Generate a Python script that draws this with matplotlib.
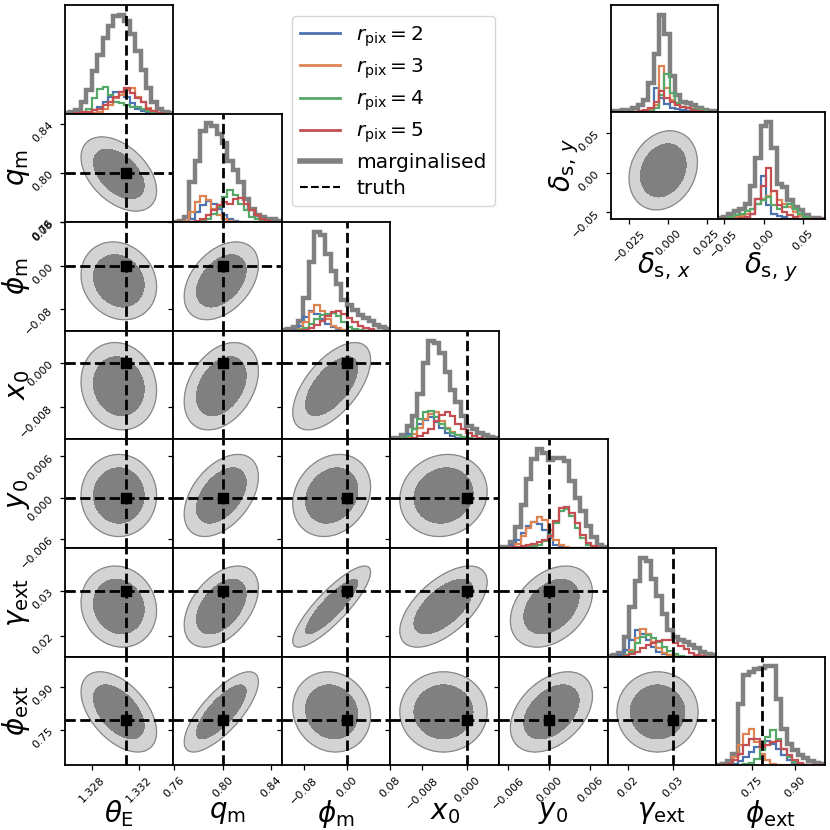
import numpy as np
import matplotlib
matplotlib.use("Agg")
import matplotlib.pyplot as plt
from matplotlib.lines import Line2D
from matplotlib.ticker import FixedLocator, FuncFormatter

# parameter names, truths, plot ranges and ticks
names = [r"$\theta_{\rm E}$", r"$q_{\rm m}$", r"$\phi_{\rm m}$", r"$x_0$",
         r"$y_0$", r"$\gamma_{\rm ext}$", r"$\phi_{\rm ext}$"]
truths = [1.3309, 0.80, 0.0, 0.0, 0.0, 0.03, 0.785]
ranges = [(1.3257, 1.3349), (0.7595, 0.8485), (-0.1205, 0.0805), (-0.0137, 0.0057),
          (-0.00738, 0.0085), (0.0154, 0.0395), (0.626, 1.005)]
ticks = [[1.328, 1.332], [0.76, 0.80, 0.84], [-0.08, 0.0, 0.08], [-0.008, 0.0],
         [-0.006, 0.0, 0.006], [0.02, 0.03], [0.75, 0.90]]
tickfmt = ["%.3f", "%.2f", "%.2f", "%.3f", "%.3f", "%.2f", "%.2f"]

# source position offsets (separate little corner plot)
d_names = [r"$\delta_{{\rm s},\,x}$", r"$\delta_{{\rm s},\,y}$"]
d_ranges = [(-0.0366, 0.0321), (-0.058, 0.077)]
d_ticks = [[-0.025, 0.0, 0.025], [-0.05, 0.0, 0.05]]
d_fmt = ["%.3f", "%.2f"]

series = ["rpix2", "rpix3", "rpix4", "rpix5", "marg"]
labels = [r"$r_{\rm pix} = 2$", r"$r_{\rm pix} = 3$", r"$r_{\rm pix} = 4$",
          r"$r_{\rm pix} = 5$", "marginalised"]
colors = ["#4c72b0", "#dd8452", "#55a868", "#c44e52", "#808080"]

# 20-bin histograms (arbitrary units) per parameter
h_thetaE = {
    "marg":  [2, 5, 10, 35, 70, 125, 175, 223, 260, 290, 293, 275, 235, 185, 130, 75, 35, 15, 5, 2],
    "rpix2": [0, 0, 0, 2, 5, 12, 20, 35, 50, 63, 65, 50, 30, 15, 7, 3, 1, 0, 0, 0],
    "rpix3": [0, 0, 0, 0, 0, 2, 5, 13, 27, 45, 55, 70, 75, 50, 35, 17, 7, 3, 0, 0],
    "rpix4": [0, 0, 0, 5, 15, 45, 73, 80, 55, 35, 30, 25, 20, 20, 13, 8, 4, 2, 0, 0],
    "rpix5": [0, 0, 2, 4, 6, 10, 15, 25, 35, 50, 65, 77, 60, 45, 35, 15, 7, 3, 0, 0],
}
h_qm = {
    "marg":  [2, 5, 15, 120, 180, 270, 292, 285, 262, 235, 180, 155, 120, 70, 40, 22, 15, 10, 8, 5],
    "rpix2": [0, 0, 0, 10, 30, 50, 62, 55, 40, 20, 10, 4, 0, 0, 0, 0, 0, 0, 0, 0],
    "rpix3": [0, 0, 5, 30, 60, 77, 65, 40, 20, 8, 3, 0, 0, 0, 0, 0, 0, 0, 0, 0],
    "rpix4": [0, 0, 0, 0, 0, 3, 10, 25, 45, 75, 94, 80, 55, 35, 15, 8, 3, 0, 0, 0],
    "rpix5": [0, 0, 0, 0, 5, 10, 20, 35, 50, 60, 55, 70, 72, 55, 35, 20, 10, 4, 0, 0],
}
h_phim = {
    "marg":  [2, 4, 10, 28, 98, 203, 293, 285, 228, 178, 138, 90, 78, 63, 48, 38, 28, 18, 10, 4],
    "rpix2": [0, 0, 3, 15, 40, 58, 50, 35, 20, 10, 5, 2, 0, 0, 0, 0, 0, 0, 0, 0],
    "rpix3": [0, 0, 0, 5, 25, 55, 78, 60, 35, 15, 8, 3, 0, 0, 0, 0, 0, 0, 0, 0],
    "rpix4": [0, 0, 0, 3, 8, 20, 35, 48, 50, 52, 45, 25, 12, 5, 2, 0, 0, 0, 0, 0],
    "rpix5": [0, 0, 0, 0, 3, 8, 18, 30, 45, 56, 58, 50, 38, 25, 15, 8, 4, 0, 0, 0],
}
h_x0 = {
    "marg":  [3, 5, 12, 40, 70, 135, 225, 292, 285, 255, 200, 145, 110, 70, 40, 30, 20, 12, 8, 4],
    "rpix2": [0, 0, 5, 15, 30, 45, 58, 65, 50, 35, 20, 10, 5, 2, 0, 0, 0, 0, 0, 0],
    "rpix3": [0, 0, 0, 5, 15, 35, 60, 75, 80, 55, 35, 22, 12, 6, 2, 0, 0, 0, 0, 0],
    "rpix4": [0, 0, 3, 10, 30, 60, 80, 85, 65, 45, 30, 20, 12, 8, 4, 0, 0, 0, 0, 0],
    "rpix5": [0, 0, 0, 0, 5, 10, 18, 30, 55, 72, 82, 68, 45, 30, 18, 10, 5, 2, 0, 0],
}
h_y0 = {
    "marg":  [2, 3, 17, 62, 127, 207, 267, 295, 285, 262, 270, 270, 260, 200, 150, 110, 65, 32, 10, 3],
    "rpix2": [0, 0, 8, 25, 45, 65, 77, 72, 55, 30, 10, 4, 0, 0, 0, 0, 0, 0, 0, 0],
    "rpix3": [0, 0, 3, 12, 35, 60, 78, 92, 85, 55, 25, 8, 3, 0, 0, 0, 0, 0, 0, 0],
    "rpix4": [0, 0, 0, 0, 0, 3, 5, 10, 20, 40, 75, 110, 117, 95, 60, 30, 10, 3, 0, 0],
    "rpix5": [0, 0, 2, 3, 5, 8, 12, 18, 25, 35, 80, 120, 122, 105, 75, 40, 15, 5, 0, 0],
}
h_gext = {
    "marg":  [3, 5, 12, 60, 150, 230, 300, 290, 235, 185, 130, 80, 60, 50, 45, 35, 25, 15, 8, 4],
    "rpix2": [0, 0, 5, 20, 50, 80, 70, 50, 30, 15, 7, 3, 0, 0, 0, 0, 0, 0, 0, 0],
    "rpix3": [0, 0, 0, 5, 20, 55, 85, 70, 45, 25, 12, 5, 2, 0, 0, 0, 0, 0, 0, 0],
    "rpix4": [0, 0, 0, 4, 15, 40, 60, 65, 55, 45, 30, 18, 8, 3, 0, 0, 0, 0, 0, 0],
    "rpix5": [0, 0, 0, 3, 8, 15, 25, 35, 42, 48, 50, 50, 42, 32, 22, 12, 5, 2, 0, 0],
}
h_phiext = {
    "marg":  [2, 4, 12, 35, 185, 270, 280, 290, 292, 297, 297, 200, 110, 65, 45, 32, 22, 14, 8, 4],
    "rpix2": [0, 0, 0, 5, 12, 25, 40, 55, 60, 72, 65, 50, 30, 15, 7, 3, 0, 0, 0, 0],
    "rpix3": [0, 0, 5, 25, 60, 95, 110, 70, 35, 15, 5, 2, 0, 0, 0, 0, 0, 0, 0, 0],
    "rpix4": [0, 0, 0, 0, 0, 3, 8, 20, 45, 85, 105, 80, 50, 25, 10, 4, 0, 0, 0, 0],
    "rpix5": [0, 0, 3, 15, 35, 60, 80, 78, 55, 60, 70, 72, 50, 30, 15, 6, 2, 0, 0, 0],
}
h_dx = {
    "marg":  [2, 3, 4, 5, 10, 20, 35, 85, 170, 288, 230, 105, 50, 30, 25, 20, 12, 6, 3, 2],
    "rpix2": [0, 0, 0, 0, 0, 0, 3, 8, 70, 40, 22, 12, 8, 5, 3, 2, 0, 0, 0, 0],
    "rpix3": [0, 0, 0, 0, 0, 0, 3, 8, 20, 135, 72, 35, 20, 15, 10, 8, 5, 3, 0, 0],
    "rpix4": [0, 0, 0, 0, 0, 0, 0, 3, 10, 50, 112, 55, 25, 15, 12, 8, 5, 2, 0, 0],
    "rpix5": [0, 0, 0, 0, 0, 2, 4, 10, 30, 62, 40, 30, 20, 15, 10, 6, 3, 0, 0, 0],
}
h_dy = {
    "marg":  [3, 5, 15, 22, 30, 45, 100, 185, 280, 295, 215, 105, 95, 55, 35, 25, 10, 3, 1, 0],
    "rpix2": [0, 0, 0, 0, 2, 5, 15, 60, 130, 40, 15, 8, 4, 0, 0, 0, 0, 0, 0, 0],
    "rpix3": [0, 0, 0, 5, 8, 15, 30, 45, 60, 70, 85, 55, 45, 35, 20, 8, 3, 0, 0, 0],
    "rpix4": [0, 0, 5, 10, 15, 22, 30, 45, 55, 65, 40, 30, 35, 45, 30, 15, 5, 0, 0, 0],
    "rpix5": [0, 0, 0, 0, 3, 5, 15, 60, 100, 155, 85, 40, 20, 10, 5, 0, 0, 0, 0, 0],
}
hists = [h_thetaE, h_qm, h_phim, h_x0, h_y0, h_gext, h_phiext]

# 2D posterior summary: centre, width, correlation
c_mean = [1.3303, 0.799, -0.028, -0.0042, 0.0003, 0.0265, 0.812]
c_sigma = [0.0016, 0.0152, 0.036, 0.0039, 0.0030, 0.0045, 0.070]
c_rho = [
    [],
    [-0.45],
    [-0.15, 0.40],
    [-0.10, 0.35, 0.60],
    [0.00, 0.45, 0.20, 0.10],
    [-0.10, 0.45, 0.85, 0.60, 0.35],
    [-0.50, 0.75, -0.10, 0.00, 0.40, 0.00],
]
d_mean = [-0.003, 0.003]
d_sigma = [0.011, 0.025]
d_rho = 0.2

LIGHT, DARK = "#d3d3d3", "#808080"
R_IN, R_OUT = 1.4, 2.0


def fmt(f):
    return FuncFormatter(lambda v, p: (f % v).replace("-", "\u2212"))


def draw_hist(ax, h, rng, truth=None):
    edges = np.linspace(rng[0], rng[1], 21)
    ax.stairs(h["marg"], edges, color=colors[4], lw=3.2)
    for s, c in zip(series[:4], colors[:4]):
        ax.stairs(h[s], edges, color=c, lw=1.6)
    if truth is not None:
        ax.axvline(truth, color="k", ls="--", lw=2)
    ax.set_xlim(rng)
    ax.set_ylim(0, 1.1 * max(h["marg"]))
    ax.set_yticks([])


def draw_2d(ax, mx, my, sx, sy, rho, xr, yr):
    x = np.linspace(xr[0], xr[1], 120)
    y = np.linspace(yr[0], yr[1], 120)
    X, Y = np.meshgrid(x, y)
    u, v = (X - mx) / sx, (Y - my) / sy
    r2 = (u * u - 2 * rho * u * v + v * v) / (1 - rho * rho)
    ax.contourf(X, Y, r2, levels=[0, R_IN ** 2, R_OUT ** 2], colors=[DARK, LIGHT])
    ax.contour(X, Y, r2, levels=[R_OUT ** 2], colors="#888888", linewidths=0.9)
    ax.set_xlim(xr)
    ax.set_ylim(yr)


def style(ax):
    for sp in ax.spines.values():
        sp.set_linewidth(1.3)
    ax.tick_params(labelsize=8, length=3.5, width=0.9)


fig = plt.figure(figsize=(8.3, 8.3), dpi=100)
L, T, C = 64.5 / 830, 1 - 5 / 830, 108.6 / 830
K = len(names)

for j in range(K):
    for i in range(j + 1):
        ax = fig.add_axes([L + i * C, T - (j + 1) * C, C, C])
        style(ax)
        if i == j:
            draw_hist(ax, hists[i], ranges[i], truths[i])
        else:
            draw_2d(ax, c_mean[i], c_mean[j], c_sigma[i], c_sigma[j],
                    c_rho[j][i], ranges[i], ranges[j])
            ax.axvline(truths[i], color="k", ls="--", lw=2)
            ax.axhline(truths[j], color="k", ls="--", lw=2)
            ax.plot(truths[i], truths[j], "s", color="k", ms=6.5)
            ax.yaxis.set_major_locator(FixedLocator(ticks[j]))
            if i == 0:
                ax.yaxis.set_major_formatter(fmt(tickfmt[j]))
                ax.tick_params(axis="y", labelrotation=45)
                ax.set_ylabel(names[j], fontsize=20)
                ax.yaxis.set_label_coords(-0.3, 0.5)
            else:
                ax.set_yticklabels([])
        ax.xaxis.set_major_locator(FixedLocator(ticks[i]))
        if j == K - 1:
            ax.xaxis.set_major_formatter(fmt(tickfmt[i]))
            ax.tick_params(axis="x", labelrotation=45)
            ax.set_xlabel(names[i], fontsize=20)
            ax.xaxis.set_label_coords(0.5, -0.3)
        else:
            ax.set_xticklabels([])

# little corner for the source offsets
dl, dt, dw = 611 / 830, 1 - 5 / 830, 106.8 / 830
ax = fig.add_axes([dl, dt - dw, dw, dw])
style(ax)
draw_hist(ax, h_dx, d_ranges[0])
ax.xaxis.set_major_locator(FixedLocator(d_ticks[0]))
ax.set_xticklabels([])

ax = fig.add_axes([dl, dt - 2 * dw, dw, dw])
style(ax)
draw_2d(ax, d_mean[0], d_mean[1], d_sigma[0], d_sigma[1], d_rho, d_ranges[0], d_ranges[1])
ax.xaxis.set_major_locator(FixedLocator(d_ticks[0]))
ax.yaxis.set_major_locator(FixedLocator(d_ticks[1]))
ax.xaxis.set_major_formatter(fmt(d_fmt[0]))
ax.yaxis.set_major_formatter(fmt(d_fmt[1]))
ax.tick_params(axis="both", labelrotation=45)
ax.set_xlabel(d_names[0], fontsize=20)
ax.set_ylabel(d_names[1], fontsize=20)
ax.xaxis.set_label_coords(0.5, -0.3)
ax.yaxis.set_label_coords(-0.28, 0.5)

ax = fig.add_axes([dl + dw, dt - 2 * dw, dw, dw])
style(ax)
draw_hist(ax, h_dy, d_ranges[1])
ax.xaxis.set_major_locator(FixedLocator(d_ticks[1]))
ax.xaxis.set_major_formatter(fmt(d_fmt[1]))
ax.tick_params(axis="x", labelrotation=45)
ax.set_xlabel(d_names[1], fontsize=20)
ax.xaxis.set_label_coords(0.5, -0.3)

handles = [Line2D([], [], color=c, lw=2) for c in colors[:4]]
handles.append(Line2D([], [], color=colors[4], lw=4))
handles.append(Line2D([], [], color="k", ls="--", lw=1.5))
fig.legend(handles, labels + ["truth"], loc="upper left",
           bbox_to_anchor=(292 / 830, 1 - 16 / 830), borderaxespad=0,
           fontsize=14.5, labelspacing=0.38)

fig.savefig("out.png", dpi=100)
